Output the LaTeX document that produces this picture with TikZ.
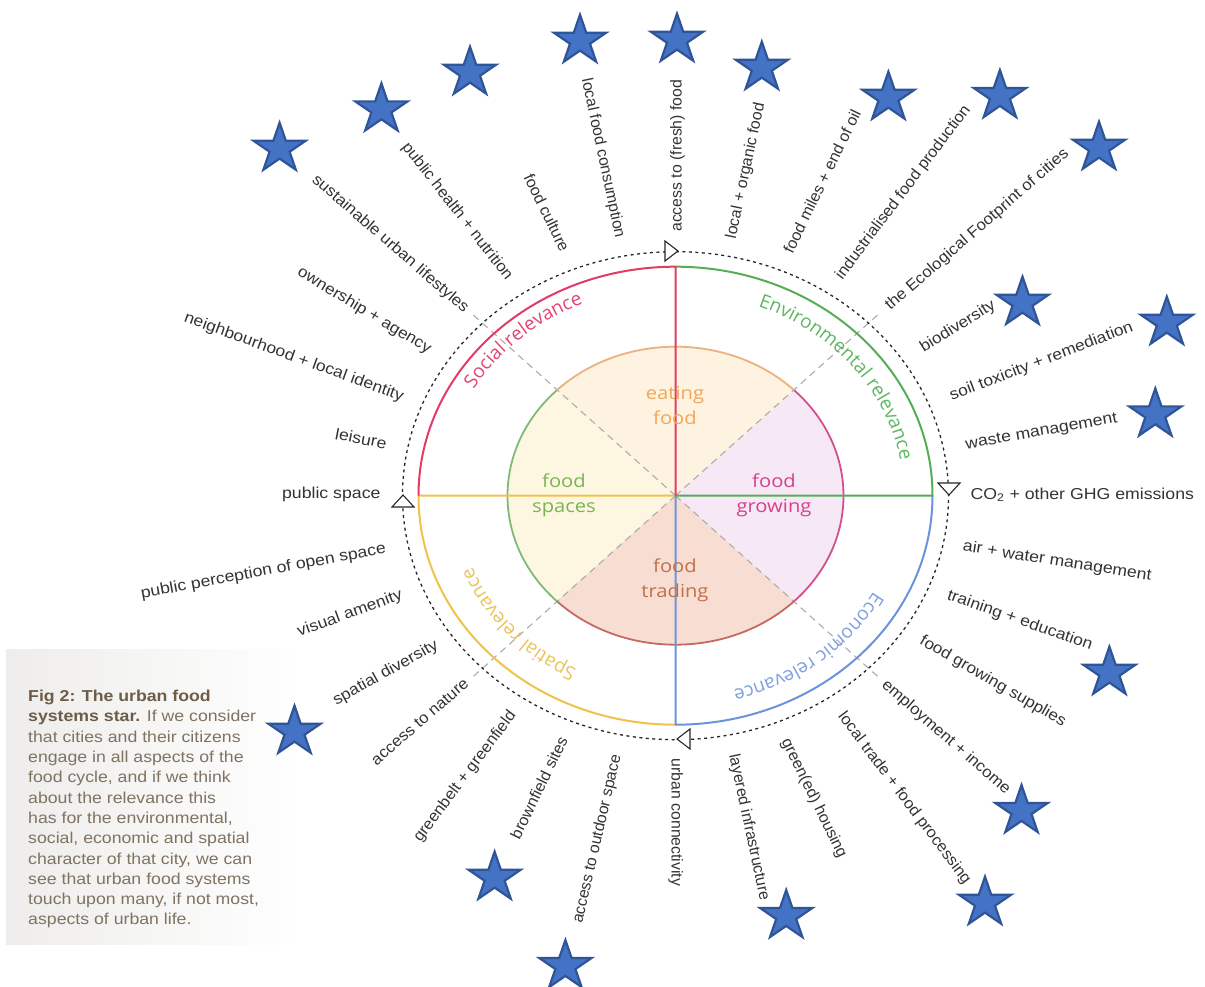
\documentclass[tikz,border=0pt]{standalone}
\usepackage{fontspec}
\setmainfont{Liberation Sans}
\newfontfamily\lblfont{Liberation Sans}
\newfontfamily\infont{Open Sans}
\usetikzlibrary{shapes.geometric,decorations.text}
\definecolor{socc}{HTML}{E23C64}
\definecolor{envc}{HTML}{55AD58}
\definecolor{ecoc}{HTML}{6B93DC}
\definecolor{spac}{HTML}{F0C24A}
\definecolor{socT}{HTML}{E2456F}
\definecolor{envT}{HTML}{5DB660}
\definecolor{ecoT}{HTML}{7F9FDD}
\definecolor{spaT}{HTML}{E9C35C}
\definecolor{secTop}{HTML}{FDF3E0}
\definecolor{secLeft}{HTML}{FDF7E2}
\definecolor{secRight}{HTML}{F7E8F6}
\definecolor{secBot}{HTML}{F8DED2}
\definecolor{arcTop}{HTML}{EBB27E}
\definecolor{arcLeft}{HTML}{80B97A}
\definecolor{arcRight}{HTML}{D2508E}
\definecolor{arcBot}{HTML}{C46A62}
\definecolor{eatc}{HTML}{F2A65A}
\definecolor{spcc}{HTML}{79B553}
\definecolor{groc}{HTML}{D6408A}
\definecolor{trac}{HTML}{C0704A}
\definecolor{lblc}{HTML}{333333}
\definecolor{capb}{HTML}{6D5C47}
\definecolor{capc}{HTML}{7F7362}
\definecolor{capbg}{HTML}{EEEDEB}
\definecolor{starf}{HTML}{4472C4}
\definecolor{stard}{HTML}{2F5597}
\begin{document}
\begin{tikzpicture}[x=1pt,y=1pt,
  lbl/.style={font=\lblfont\fontsize{15.8}{18}\selectfont, text=lblc, inner sep=0pt, text height=11.5pt, text depth=3.3pt},
  intext/.style={font=\infont\fontsize{18}{22}\selectfont, xscale=1.12, anchor=base, inner sep=0pt},
  starnode/.style={star, star points=5, star point ratio=2.618, minimum size=52pt, inner sep=0pt, fill=starf, draw=stard, line width=2.2pt, xscale=1.06},
  quad/.style={line width=2pt, line join=round},
  inarc/.style={line width=1.8pt},
  dashring/.style={line width=1.3pt, dash pattern=on 3pt off 3.5pt, draw=black!85},
  diag/.style={line width=1.1pt, dash pattern=on 7pt off 5pt, draw=gray!65},
  tri/.style={draw=black!85, fill=white, line width=1.1pt, line join=miter}
]
\useasboundingbox (0,0) rectangle (1205,986);
\coordinate (C) at (675.5,490.3);

% caption background
\fill[left color=capbg, right color=white] (6,42) rectangle (305,336);

% inner sectors
\fill[secTop] (C) -- ([shift={(45:168 and 149)}]C) arc[start angle=45, end angle=135, x radius=168pt, y radius=149pt] -- cycle;
\fill[secLeft] (C) -- ([shift={(135:168 and 149)}]C) arc[start angle=135, end angle=225, x radius=168pt, y radius=149pt] -- cycle;
\fill[secBot] (C) -- ([shift={(225:168 and 149)}]C) arc[start angle=225, end angle=315, x radius=168pt, y radius=149pt] -- cycle;
\fill[secRight] (C) -- ([shift={(-45:168 and 149)}]C) arc[start angle=-45, end angle=45, x radius=168pt, y radius=149pt] -- cycle;

% diagonal dashed rays
\foreach \a in {45,135,225,315} \draw[diag] (C) -- ([shift={(\a:286.6 and 256.2)}]C);

% inner arcs
\draw[inarc, arcTop] ([shift={(45:168 and 149)}]C) arc[start angle=45, end angle=135, x radius=168pt, y radius=149pt];
\draw[inarc, arcLeft] ([shift={(135:168 and 149)}]C) arc[start angle=135, end angle=225, x radius=168pt, y radius=149pt];
\draw[inarc, arcBot] ([shift={(225:168 and 149)}]C) arc[start angle=225, end angle=315, x radius=168pt, y radius=149pt];
\draw[inarc, arcRight] ([shift={(-45:168 and 149)}]C) arc[start angle=-45, end angle=45, x radius=168pt, y radius=149pt];

% quadrants
\draw[quad, spac] ([shift={(270:257 and 229)}]C) arc[start angle=270, end angle=180, x radius=257pt, y radius=229pt] -- (C);
\draw[quad, ecoc] ([shift={(0:257 and 229)}]C) arc[start angle=0, end angle=-90, x radius=257pt, y radius=229pt] -- (C);
\draw[quad, envc] ([shift={(90:257 and 229)}]C) arc[start angle=90, end angle=0, x radius=257pt, y radius=229pt] -- (C);
\draw[quad, socc] ([shift={(180:257 and 229)}]C) arc[start angle=180, end angle=90, x radius=257pt, y radius=229pt] -- (C);

% dashed ring and direction triangles
\draw[dashring] (C) ellipse[x radius=273pt, y radius=244pt];
\draw[tri] (678,735) -- (665,745) -- (665,725) -- cycle;
\draw[tri] (403,491) -- (392,479) -- (414,479) -- cycle;
\draw[tri] (949,491) -- (938,503) -- (960,503) -- cycle;
\draw[tri] (677,247) -- (690,257) -- (690,237) -- cycle;

% relevance texts along arcs
\path[decorate, decoration={text along path, text align=center, text={|\infont\fontsize{19}{22}\selectfont\color{socT}|Social relevance}}]
  ([shift={(172.3:234.6 and 209.1)}]C) arc[start angle=172.3, end angle=92.3, x radius=234.6pt, y radius=209.1pt];
\path[decorate, decoration={text along path, text align=center, text={|\infont\fontsize{19}{22}\selectfont\color{envT}|Environmental relevance}}]
  ([shift={(78.8:228.2 and 203.4)}]C) arc[start angle=78.8, end angle=-1.2, x radius=228.2pt, y radius=203.4pt];
\path[decorate, decoration={text along path, text align=center, text={|\infont\fontsize{19}{22}\selectfont\color{ecoT}|Economic relevance}}]
  ([shift={(-11:225.4 and 200.8)}]C) arc[start angle=-11, end angle=-91, x radius=225.4pt, y radius=200.8pt];
\path[decorate, decoration={text along path, text align=center, text={|\infont\fontsize{19}{22}\selectfont\color{spaT}|Spatial relevance}}]
  ([shift={(261.4:218.5 and 194.7)}]C) arc[start angle=261.4, end angle=181.4, x radius=218.5pt, y radius=194.7pt];

% inner texts
\node[intext, text=eatc] (eat1) at (675,986-400) {eating};
\node[intext, text=eatc] (eat2) at (675,986-425) {food};
\node[intext, text=spcc] (spa1) at (564,986-488) {food};
\node[intext, text=spcc] (spa2) at (564,986-513) {spaces};
\node[intext, text=groc] (gro1) at (774,986-488) {food};
\node[intext, text=groc] (gro2) at (774,986-513) {growing};
\node[intext, text=trac] (tra1) at (675,986-573) {food};
\node[intext, text=trac] (tra2) at (675,986-598) {trading};

% outer labels
\foreach \x/\y/\a/\nm/\lab in {
390.2/244.2/-41/sus/sustainable urban lifestyles,
457.1/211.7/-52/phn/public health + nutrition,
545.5/213.3/-64/fcu/food culture,
602.7/158.3/-78/lfc/local food consumption,
364.3/310.8/-31/own/ownership + agency,
293.8/357.5/-20/nbh/neighbourhood + local identity,
360.7/440/-11/lei/leisure,
331.3/494/0/pub/public space,
263.4/571.7/10.5/ppo/public perception of open space,
350/614/20/vis/visual amenity,
385.7/673.3/29/spd/spatial diversity,
420.5/722.5/41/atn/access to nature,
465.2/776.7/53/gbg/greenbelt + greenfield,
540.2/788.3/64/bfs/brownfield sites,
597.4/839.2/77/aos/access to outdoor space,
677.4/155.8/90/acf/access to (fresh) food,
746/170.8/78/lof/local + organic food,
823.4/181.7/64/fme/food miles + end of oil,
903.3/192.5/53/ifp/industrialised food production,
977.2/230/41/efc/the Ecological Footprint of cities,
958/326.7/32/bio/biodiversity,
1041.5/361.7/21/stx/soil toxicity + remediation,
1041.4/431.7/10/wst/waste management,
1082.3/495/0/co2/CO\textsubscript{2} + other GHG emissions,
1057.2/561.7/-9/awm/air + water management,
1019.8/620.8/-19.5/tre/training + education,
992.8/681.7/-30/fgs/food growing supplies,
945.9/737.5/-41/emp/employment + income,
904.2/798.3/-53/ltf/local trade + food processing,
813.8/798.3/-64/grh/green(ed) housing,
748.7/827.5/-78/lin/layered infrastructure,
675.6/822.5/-90/urb/urban connectivity}{
  \pgfmathsetmacro\fac{1/sqrt((cos(\a))^2/1.2544+(sin(\a))^2)}
  \node[lbl, rotate=\a, xscale=\fac] (\nm) at (\x,986-\y) {\lab};
}

% caption
\node[anchor=north west, inner sep=0pt, xscale=1.12, align=left, font=\lblfont\fontsize{15.8}{20.3}\selectfont, text=capc] (cap) at (28,296)
{\textbf{\color{capb}Fig 2: The urban food}\\
\textbf{\color{capb}systems star.} If we consider\\
that cities and their citizens\\
engage in all aspects of the\\
food cycle, and if we think\\
about the relevance this\\
has for the environmental,\\
social, economic and spatial\\
character of that city, we can\\
see that urban food systems\\
touch upon many, if not most,\\
aspects of urban life.};

% stars
\foreach \x/\y [count=\i] in {279.6/146, 381.4/106.7, 470/70, 580/38, 677/37, 761.8/65, 888.4/95, 999.9/93.3, 1099/145, 1022.5/300, 1166.8/320, 1155.3/411.7, 1109.4/670, 1021.5/808.3, 985/900, 786.2/913.3, 565.4/963.3, 494.6/875, 294.5/729}
  \node[starnode] (star\i) at (\x,983.3-\y) {};
\end{tikzpicture}
\end{document}
